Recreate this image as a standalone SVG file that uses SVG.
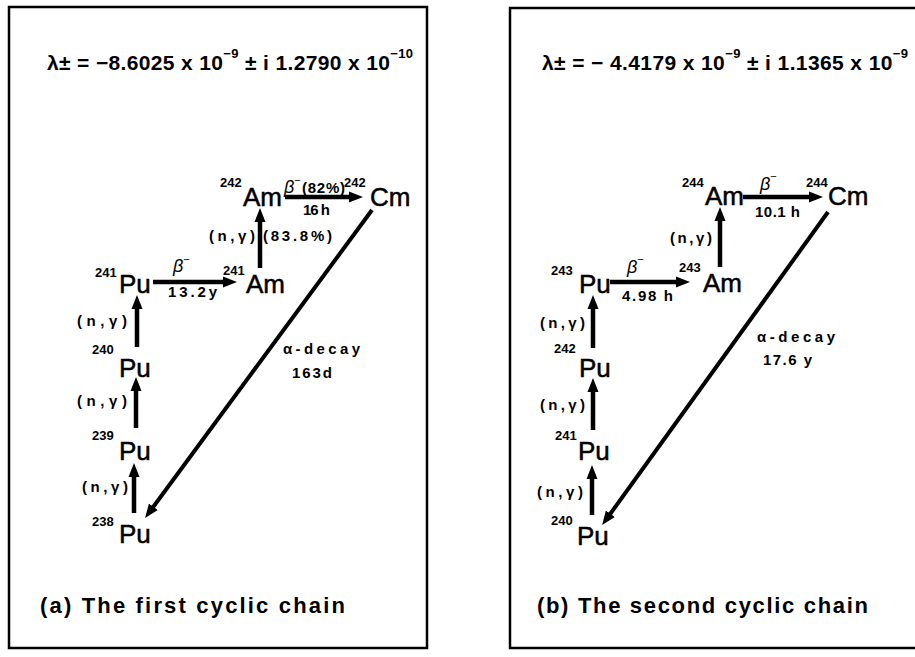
<svg xmlns="http://www.w3.org/2000/svg" width="915" height="657" viewBox="0 0 915 657">
<defs>
<style>
text{font-family:"Liberation Sans","DejaVu Sans",sans-serif;fill:#000}
.el{font-size:26px;stroke:#000;stroke-width:0.5}
.ms{font-size:13px;font-weight:bold}
.lb{font-size:15px;font-weight:bold}
.bt{font-size:18px;font-style:italic}
.ti{font-size:21px;font-weight:bold}
.cap{font-size:22px;font-weight:bold}
.frame{fill:none;stroke:#000;stroke-width:2.5}
.ar{stroke:#000;stroke-width:4.5;fill:none;marker-end:url(#ah)}
.dg{stroke:#000;stroke-width:4;fill:none;marker-end:url(#ah)}
</style>
<marker id="ah" markerUnits="userSpaceOnUse" markerWidth="16" markerHeight="12" refX="4" refY="6" orient="auto">
<path d="M0,0.5 L14,6 L0,11.5 z" fill="#000"/>
</marker>
</defs>
<rect width="915" height="657" fill="#fff"/>

<g id="frame-a"><rect class="frame" x="9" y="7" width="418" height="641"/></g>
<g id="frame-b"><path class="frame" d="M916,8 H510 V648 H916"/></g>

<g id="title-a"><text class="ti" x="47" y="70" textLength="366" lengthAdjust="spacing">λ± = −8.6025 x 10<tspan font-size="13" dy="-12">−9</tspan><tspan dy="12">  ± i 1.2790 x 10</tspan><tspan font-size="13" dy="-12">−10</tspan></text></g>
<g id="title-b"><text class="ti" x="542" y="70" textLength="366" lengthAdjust="spacing">λ± = − 4.4179 x 10<tspan font-size="13" dy="-12">−9</tspan><tspan dy="12"> ± i 1.1365 x 10</tspan><tspan font-size="13" dy="-12">−9</tspan></text></g>

<g id="connectors">
<line class="ar" x1="285" y1="197" x2="353" y2="197"/>
<line class="ar" x1="260" y1="268" x2="260" y2="218"/>
<line class="ar" x1="153" y1="282" x2="227" y2="282"/>
<line class="ar" x1="137" y1="347" x2="137" y2="305"/>
<line class="ar" x1="136" y1="428" x2="136" y2="387"/>
<line class="ar" x1="134" y1="513" x2="134" y2="473"/>
<line class="dg" x1="372" y1="210" x2="151" y2="510"/>

<line class="ar" x1="743" y1="197" x2="813" y2="197"/>
<line class="ar" x1="720" y1="267" x2="720" y2="217"/>
<line class="ar" x1="610" y1="282" x2="680" y2="282"/>
<line class="ar" x1="593" y1="348" x2="593" y2="305"/>
<line class="ar" x1="593" y1="430" x2="593" y2="388"/>
<line class="ar" x1="592" y1="515" x2="592" y2="475"/>
<line class="dg" x1="828" y1="212" x2="608" y2="517"/>
</g>

<g id="Am242"><text class="ms" x="220" y="187">242</text><text class="el" x="243" y="206">Am</text></g>
<g id="Cm242"><text class="ms" x="344" y="187">242</text><text class="el" x="370" y="206">Cm</text></g>
<g id="Pu241a"><text class="ms" x="95" y="277">241</text><text class="el" x="119" y="293">Pu</text></g>
<g id="Am241"><text class="ms" x="223" y="275">241</text><text class="el" x="246" y="293">Am</text></g>
<g id="Pu240a"><text class="ms" x="92" y="354">240</text><text class="el" x="119" y="377">Pu</text></g>
<g id="Pu239"><text class="ms" x="92" y="440">239</text><text class="el" x="119" y="460">Pu</text></g>
<g id="Pu238"><text class="ms" x="92" y="526">238</text><text class="el" x="119" y="543">Pu</text></g>

<g id="labels-a">
<text class="bt" x="284" y="193">β<tspan font-size="11" font-style="normal" dy="-9">−</tspan></text>
<text class="lb" x="302" y="193" textLength="43" lengthAdjust="spacing">(82%)</text>
<text class="lb" x="303" y="215" textLength="27" lengthAdjust="spacing">16 h</text>
<text class="lb" x="209" y="241" textLength="46" lengthAdjust="spacing">(n,γ)</text>
<text class="lb" x="263" y="241" textLength="69" lengthAdjust="spacing">(83.8%)</text>
<text class="bt" x="173" y="272">β<tspan font-size="11" font-style="normal" dy="-9">−</tspan></text>
<text class="lb" x="168" y="297" textLength="49" lengthAdjust="spacing">13.2y</text>
<text class="lb" x="77" y="326" textLength="50" lengthAdjust="spacing">(n,γ)</text>
<text class="lb" x="77" y="406" textLength="50" lengthAdjust="spacing">(n,γ)</text>
<text class="lb" x="82" y="492" textLength="46" lengthAdjust="spacing">(n,γ)</text>
<text class="lb" x="283" y="354" font-size="17" textLength="77" lengthAdjust="spacing">α-decay</text>
<text class="lb" x="292" y="378" textLength="40" lengthAdjust="spacing">163d</text>
</g>
<g id="caption-a"><text class="cap" x="40" y="613" textLength="305" lengthAdjust="spacing">(a)  The first cyclic chain</text></g>

<g id="Am244"><text class="ms" x="682" y="187">244</text><text class="el" x="705" y="205">Am</text></g>
<g id="Cm244"><text class="ms" x="806" y="187">244</text><text class="el" x="828" y="205">Cm</text></g>
<g id="Pu243"><text class="ms" x="551" y="275">243</text><text class="el" x="579" y="293">Pu</text></g>
<g id="Am243"><text class="ms" x="679" y="272">243</text><text class="el" x="703" y="292">Am</text></g>
<g id="Pu242"><text class="ms" x="554" y="353">242</text><text class="el" x="579" y="377">Pu</text></g>
<g id="Pu241b"><text class="ms" x="555" y="440">241</text><text class="el" x="578" y="460">Pu</text></g>
<g id="Pu240b"><text class="ms" x="551" y="525">240</text><text class="el" x="577" y="545">Pu</text></g>

<g id="labels-b">
<text class="bt" x="760" y="190">β<tspan font-size="11" font-style="normal" dy="-10">−</tspan></text>
<text class="lb" x="755" y="217" textLength="45" lengthAdjust="spacing">10.1 h</text>
<text class="lb" x="670" y="243" textLength="42" lengthAdjust="spacing">(n,γ)</text>
<text class="bt" x="627" y="273">β<tspan font-size="11" font-style="normal" dy="-10">−</tspan></text>
<text class="lb" x="622" y="301" textLength="51" lengthAdjust="spacing">4.98 h</text>
<text class="lb" x="540" y="328" textLength="45" lengthAdjust="spacing">(n,γ)</text>
<text class="lb" x="540" y="410" textLength="45" lengthAdjust="spacing">(n,γ)</text>
<text class="lb" x="537" y="497" textLength="46" lengthAdjust="spacing">(n,γ)</text>
<text class="lb" x="757" y="342" font-size="17" textLength="78" lengthAdjust="spacing">α-decay</text>
<text class="lb" x="763" y="365" textLength="49" lengthAdjust="spacing">17.6 y</text>
</g>
<g id="caption-b"><text class="cap" x="537" y="613" textLength="331" lengthAdjust="spacing">(b)  The second cyclic chain</text></g>
</svg>
